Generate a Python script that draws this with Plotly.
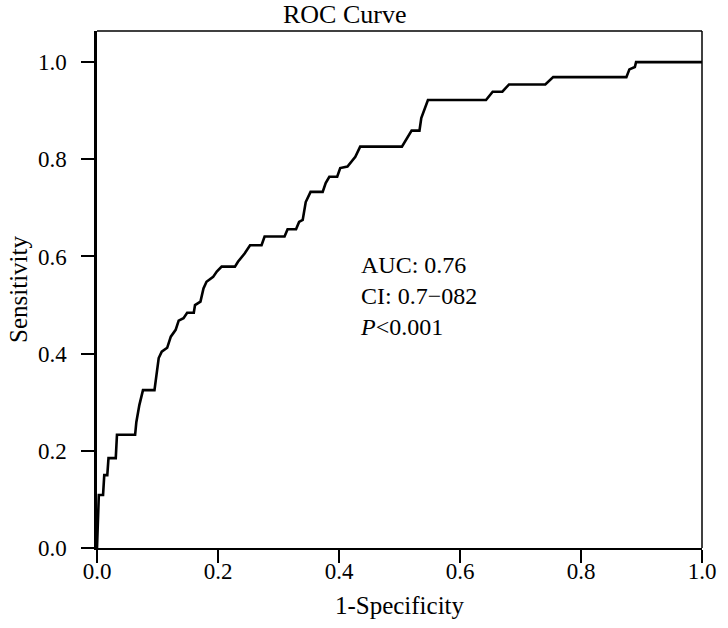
import plotly.graph_objects as go

# ROC curve vertices
fpr = [0.000, 0.002, 0.003, 0.010, 0.012, 0.017, 0.019, 0.031, 0.033, 0.063,
       0.065, 0.070, 0.076, 0.095, 0.097, 0.099, 0.102, 0.107, 0.116, 0.122,
       0.130, 0.135, 0.143, 0.149, 0.160, 0.162, 0.171, 0.176, 0.181, 0.192,
       0.198, 0.206, 0.228, 0.233, 0.244, 0.253, 0.272, 0.277, 0.310, 0.315,
       0.329, 0.334, 0.340, 0.345, 0.353, 0.373, 0.378, 0.384, 0.397, 0.402,
       0.414, 0.427, 0.435, 0.504, 0.512, 0.520, 0.533, 0.536, 0.547, 0.643,
       0.654, 0.670, 0.681, 0.741, 0.754, 0.875, 0.880, 0.889, 0.891, 1.000]
tpr = [0.000, 0.060, 0.109, 0.109, 0.150, 0.150, 0.185, 0.185, 0.233, 0.233,
       0.259, 0.294, 0.325, 0.325, 0.346, 0.356, 0.391, 0.404, 0.412, 0.435,
       0.449, 0.468, 0.473, 0.484, 0.484, 0.500, 0.507, 0.534, 0.548, 0.558,
       0.569, 0.579, 0.579, 0.589, 0.606, 0.623, 0.623, 0.641, 0.641, 0.656,
       0.656, 0.671, 0.675, 0.712, 0.733, 0.733, 0.751, 0.764, 0.764, 0.782,
       0.785, 0.805, 0.826, 0.826, 0.844, 0.859, 0.859, 0.885, 0.922, 0.922,
       0.939, 0.939, 0.954, 0.954, 0.969, 0.969, 0.985, 0.990, 1.000, 1.000]

tick_vals = [0.0, 0.2, 0.4, 0.6, 0.8, 1.0]
stats_lines = ["AUC: 0.76", "CI: 0.7\u2212082", "<i>P</i>&lt;0.001"]

FONT = "Liberation Serif, Times New Roman, serif"

fig = go.Figure()
fig.add_trace(go.Scatter(
    x=fpr, y=tpr, mode="lines",
    line=dict(color="black", width=2.6),
    showlegend=False, hoverinfo="skip"
))

axis_common = dict(
    ticks="outside", ticklen=13, tickwidth=2, tickcolor="black",
    tickvals=tick_vals, tickformat=".1f",
    showgrid=False, zeroline=False,
    tickfont=dict(family=FONT, size=23, color="black"),
)

fig.update_xaxes(
    range=[0, 1], showline=True, linecolor="black", linewidth=1.5,
    ticklabelstandoff=-11,
    title=dict(text="1-Specificity", font=dict(family=FONT, size=25, color="black"), standoff=13),
    **axis_common
)
fig.update_yaxes(
    range=[0, 1.064], showline=True, linecolor="black", linewidth=2.5,
    ticklabelstandoff=10,
    title=dict(text="Sensitivity", font=dict(family=FONT, size=25, color="black"), standoff=4),
    **axis_common
)

# top and right frame
fig.add_shape(type="line", xref="paper", yref="paper", x0=0, x1=1, y0=1, y1=1,
              line=dict(color="black", width=1.5))
fig.add_shape(type="line", xref="paper", yref="paper", x0=1, x1=1, y0=0, y1=1,
              line=dict(color="black", width=1.5))

fig.add_annotation(
    text="ROC Curve", xref="paper", yref="paper", x=0.41, y=1,
    xanchor="center", yanchor="bottom", yshift=0, showarrow=False,
    font=dict(family=FONT, size=26, color="black")
)
fig.add_annotation(
    text="<br>".join(stats_lines), xref="x", yref="y", x=0.432, y=0.614,
    xanchor="left", yanchor="top", align="left", showarrow=False,
    font=dict(family=FONT, size=24, color="black")
)

fig.update_layout(
    width=728, height=628,
    margin=dict(l=97, r=20, t=31, b=80),
    plot_bgcolor="white", paper_bgcolor="white",
    font=dict(family=FONT, color="black"),
)

fig.write_html("out.html", config={"displayModeBar": False},
               post_script="document.body.style.margin='0px';")
